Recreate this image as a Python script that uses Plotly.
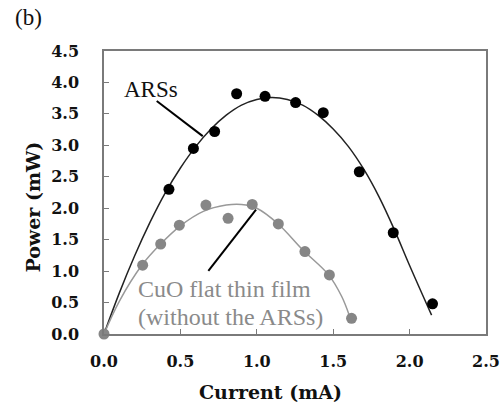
import plotly.graph_objects as go

# Measured points
ars_current = [0.425, 0.585, 0.724, 0.868, 1.054, 1.254, 1.435, 1.671, 1.893, 2.150]
ars_power = [2.30, 2.95, 3.22, 3.82, 3.78, 3.68, 3.52, 2.58, 1.61, 0.48]

cuo_current = [0.0, 0.253, 0.371, 0.493, 0.667, 0.812, 0.970, 1.141, 1.315, 1.475, 1.620]
cuo_power = [0.0, 1.095, 1.43, 1.73, 2.05, 1.84, 2.06, 1.75, 1.31, 0.94, 0.25]

# Fitted curves
ars_fit_current = [0.0, 0.1, 0.2, 0.3, 0.4, 0.5, 0.6, 0.7, 0.8, 0.9, 1.0, 1.1, 1.2, 1.3,
                   1.4, 1.5, 1.6, 1.7, 1.8, 1.9, 2.0, 2.144]
ars_fit_power = [0.0, 0.65, 1.24, 1.77, 2.24, 2.64, 2.98, 3.26, 3.48, 3.64, 3.73, 3.76, 3.73,
                 3.64, 3.48, 3.26, 2.98, 2.62, 2.18, 1.66, 1.09, 0.30]

cuo_fit_current = [0.0, 0.1, 0.25, 0.37, 0.5, 0.65, 0.8, 0.9, 1.0, 1.14, 1.3, 1.47, 1.555, 1.605]
cuo_fit_power = [0.0, 0.52, 1.10, 1.43, 1.72, 1.95, 2.05, 2.06, 2.00, 1.75, 1.34, 0.94, 0.60, 0.30]

x_ticks = [0.0, 0.5, 1.0, 1.5, 2.0, 2.5]
y_ticks = [0.0, 0.5, 1.0, 1.5, 2.0, 2.5, 3.0, 3.5, 4.0, 4.5]

GRAY = "#8a8a8a"
AXIS = "#7a7a7a"
TICKFONT = dict(family="DejaVu Serif", size=16, color="#111")

fig = go.Figure()
fig.add_trace(go.Scatter(x=ars_fit_current, y=ars_fit_power, mode="lines",
                         line=dict(color="#222", width=1.5, shape="spline"), hoverinfo="skip"))
fig.add_trace(go.Scatter(x=cuo_fit_current, y=cuo_fit_power, mode="lines",
                         line=dict(color="#999", width=1.5, shape="spline"), hoverinfo="skip"))
fig.add_trace(go.Scatter(x=ars_current, y=ars_power, mode="markers",
                         marker=dict(color="black", size=11), cliponaxis=False))
fig.add_trace(go.Scatter(x=cuo_current, y=cuo_power, mode="markers",
                         marker=dict(color="#868686", size=11), cliponaxis=False))

# leader lines
fig.add_shape(type="line", x0=0.345, y0=3.705, x1=0.646, y1=3.147,
              line=dict(color="black", width=2))
fig.add_shape(type="line", x0=0.683, y0=1.005, x1=0.995, y1=1.978,
              line=dict(color="black", width=2))

fig.add_annotation(x=0.307, y=3.89, text="ARSs", showarrow=False,
                   font=dict(family="Liberation Serif", size=23, color="#111"))
fig.add_annotation(x=0.21, y=0.718, text="CuO flat thin film",
                   showarrow=False, xanchor="left", yanchor="middle",
                   font=dict(family="Liberation Serif", size=24, color=GRAY))
fig.add_annotation(x=0.21, y=0.271, text="(without the ARSs)",
                   showarrow=False, xanchor="left", yanchor="middle",
                   font=dict(family="Liberation Serif", size=24, color=GRAY))

# plot area spans 382 x 283 px
fig.add_annotation(xref="paper", yref="paper", x=-0.186, y=0.45, text="<b>Power (mW)</b>",
                   textangle=-90, showarrow=False, xanchor="center", yanchor="middle",
                   font=dict(family="DejaVu Serif", size=19, color="#111"))
fig.add_annotation(xref="paper", yref="paper", x=0.436, y=-0.205, text="<b>Current (mA)</b>",
                   showarrow=False, xanchor="center", yanchor="middle",
                   font=dict(family="DejaVu Serif", size=19, color="#111"))
fig.add_annotation(xref="paper", yref="paper", x=-0.238, y=1.117, text="(b)", showarrow=False,
                   xanchor="left", yanchor="middle",
                   font=dict(family="Liberation Serif", size=23, color="#111"))

fig.update_xaxes(range=[0, 2.5], tickvals=x_ticks, ticktext=[f"<b>{v:.1f}</b>" for v in x_ticks],
                 showgrid=False, zeroline=False, showline=True, linecolor=AXIS, linewidth=1.5,
                 mirror=True, ticks="inside", ticklen=5, tickcolor=AXIS, tickfont=TICKFONT,
                 ticklabelstandoff=12, automargin=False)
fig.update_yaxes(range=[0, 4.5], tickvals=y_ticks, ticktext=[f"<b>{v:.1f}</b>" for v in y_ticks],
                 showgrid=False, zeroline=False, showline=True, linecolor=AXIS, linewidth=1.5,
                 mirror=True, ticks="inside", ticklen=5, tickcolor=AXIS, tickfont=TICKFONT,
                 ticklabelstandoff=20, automargin=False)
fig.update_layout(width=503, height=408, showlegend=False,
                  margin=dict(l=104, r=17, t=51, b=74),
                  plot_bgcolor="white", paper_bgcolor="white")
# remove the default page margin so the figure fills the window exactly
fig.write_html("out.html", config={"displayModeBar": False},
               post_script="document.body.style.margin='0';")
